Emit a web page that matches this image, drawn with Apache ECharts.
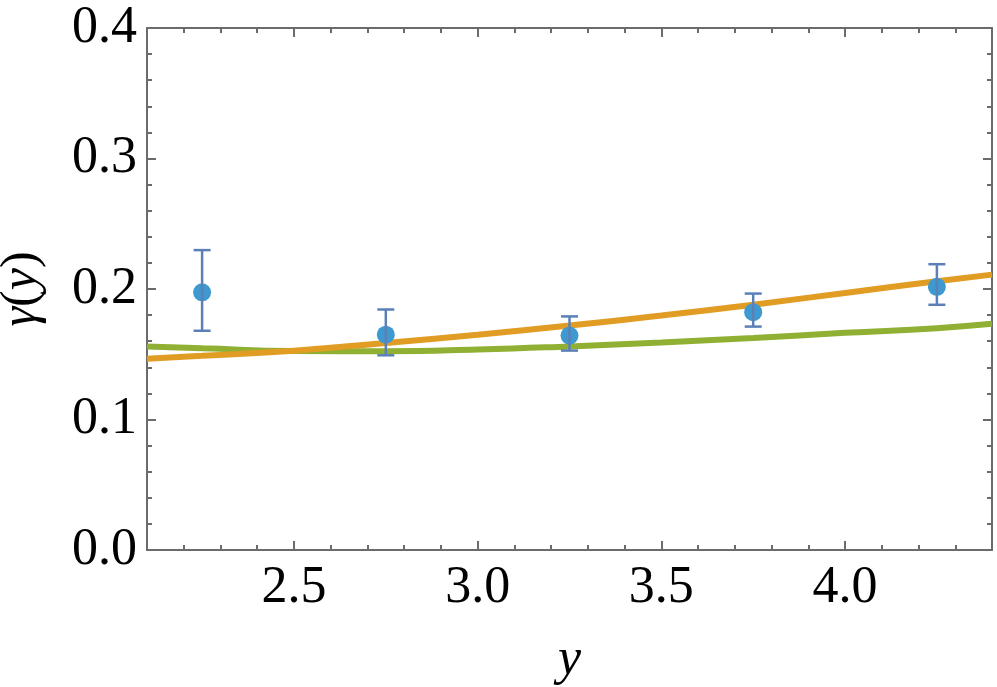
<!DOCTYPE html>
<html>
<head>
<meta charset="utf-8">
<script src="https://cdn.jsdelivr.net/npm/echarts@6/dist/echarts.min.js"></script>
<style>
  html, body { margin: 0; padding: 0; background: #fff; }
  #chart { width: 997px; height: 687px; }
</style>
</head>
<body>
<div id="chart"></div>
<script>
// measured points with error bars
var pointX = [2.25, 2.75, 3.25, 3.75, 4.25];
var pointY = [0.1975, 0.165, 0.1643, 0.1822, 0.2017];
var errLow = [0.168, 0.1492, 0.1528, 0.1712, 0.1879];
var errHigh = [0.2298, 0.1843, 0.179, 0.1965, 0.219];

// fit curves
var curveX = [2.1, 2.25, 2.5, 2.75, 3.0, 3.25, 3.5, 3.75, 4.0, 4.25, 4.4];
var orangeY = [0.1466, 0.1488, 0.1527, 0.1587, 0.165, 0.172, 0.1797, 0.188, 0.197, 0.206, 0.211];
var greenY = [0.156, 0.1546, 0.1525, 0.1523, 0.1536, 0.156, 0.159, 0.1625, 0.1664, 0.170, 0.1733];

var xTicks = [2.5, 3.0, 3.5, 4.0];

var myChart = echarts.init(document.getElementById('chart'));

function zip(xs, ys) {
  return xs.map(function (x, i) { return [x, ys[i]]; });
}

var axisGray = '#6b6b6b';
var serif = 'Liberation Serif, Times New Roman, serif';
var labelFont = {
  color: '#000',
  fontFamily: serif,
  fontSize: 52
};
var tickStyle = { color: axisGray, width: 2 };

// major x ticks + labels
function xMajor(pos, withLabels) {
  var ax = {
    type: 'value',
    position: pos,
    min: 2.1,
    max: 4.4,
    axisLine: { show: true, onZero: false, lineStyle: { color: axisGray, width: 2 } },
    axisTick: { show: true, inside: true, length: 9, customValues: xTicks, lineStyle: tickStyle },
    axisLabel: { show: false },
    splitLine: { show: false }
  };
  if (withLabels) {
    ax.axisLabel = Object.assign({}, labelFont, {
      show: true,
      margin: 12,
      customValues: xTicks,
      formatter: function (v) { return v.toFixed(1); }
    });
    ax.name = 'y';
    ax.nameLocation = 'middle';
    ax.nameGap = 84;
    ax.nameTextStyle = { color: '#000', fontFamily: serif, fontStyle: 'italic', fontSize: 52 };
  }
  return ax;
}

// minor x ticks every 0.1
function xMinor(pos) {
  return {
    type: 'value',
    position: pos,
    min: 2.1,
    max: 4.4,
    interval: 0.1,
    axisLine: { show: false, onZero: false },
    axisTick: { show: true, inside: true, length: 5, lineStyle: tickStyle },
    axisLabel: { show: false },
    splitLine: { show: false }
  };
}

function yAxisDef(pos, withLabels) {
  var ax = {
    type: 'value',
    position: pos,
    min: 0,
    max: 0.4,
    interval: 0.1,
    axisLine: { show: true, onZero: false, lineStyle: { color: axisGray, width: 2 } },
    axisTick: { show: true, inside: true, length: 9, lineStyle: tickStyle },
    minorTick: { show: true, splitNumber: 5, length: 5, lineStyle: tickStyle },
    axisLabel: { show: false },
    splitLine: { show: false }
  };
  if (withLabels) {
    ax.axisLabel = Object.assign({}, labelFont, {
      show: true,
      margin: 10,
      formatter: function (v) { return v.toFixed(1); }
    });
    ax.name = '{i|γ}{n|(}{i|y}{n|)}';
    ax.nameLocation = 'middle';
    ax.nameGap = 100;
    ax.nameRotate = 90;
    ax.nameTextStyle = {
      rich: {
        i: { color: '#000', fontFamily: serif, fontStyle: 'italic', fontSize: 50 },
        n: { color: '#000', fontFamily: serif, fontSize: 50 }
      }
    };
  }
  return ax;
}

var option = {
  backgroundColor: '#fff',
  animation: false,
  grid: { left: 147, right: 5, top: 28, bottom: 137, outerBoundsMode: 'none', containLabel: false },
  xAxis: [xMajor('bottom', true), xMinor('bottom'), xMajor('top', false), xMinor('top')],
  yAxis: [yAxisDef('left', true), yAxisDef('right', false)],
  series: [
    {
      name: 'green',
      type: 'line',
      smooth: true,
      showSymbol: false,
      clip: true,
      lineStyle: { color: '#8fb032', width: 6 },
      data: zip(curveX, greenY),
      z: 2
    },
    {
      name: 'orange',
      type: 'line',
      smooth: true,
      showSymbol: false,
      clip: true,
      lineStyle: { color: '#e19c24', width: 6 },
      data: zip(curveX, orangeY),
      z: 3
    },
    {
      name: 'points',
      type: 'scatter',
      symbol: 'circle',
      symbolSize: 18,
      itemStyle: { color: '#3d99cf', opacity: 1 },
      data: zip(pointX, pointY),
      z: 4
    },
    {
      name: 'errors',
      type: 'custom',
      renderItem: function (params, api) {
        var x = api.value(0);
        var top = api.coord([x, api.value(2)]);
        var bot = api.coord([x, api.value(1)]);
        var cap = 8.5;
        var style = { stroke: '#5b80b8', lineWidth: 2.5 };
        return {
          type: 'group',
          children: [
            { type: 'line', shape: { x1: top[0], y1: top[1], x2: bot[0], y2: bot[1] }, style: style },
            { type: 'line', shape: { x1: top[0] - cap, y1: top[1], x2: top[0] + cap, y2: top[1] }, style: style },
            { type: 'line', shape: { x1: bot[0] - cap, y1: bot[1], x2: bot[0] + cap, y2: bot[1] }, style: style }
          ]
        };
      },
      encode: { x: 0, y: [1, 2] },
      data: pointX.map(function (x, i) { return [x, errLow[i], errHigh[i]]; }),
      z: 5
    }
  ]
};

myChart.setOption(option);
</script>
</body>
</html>
